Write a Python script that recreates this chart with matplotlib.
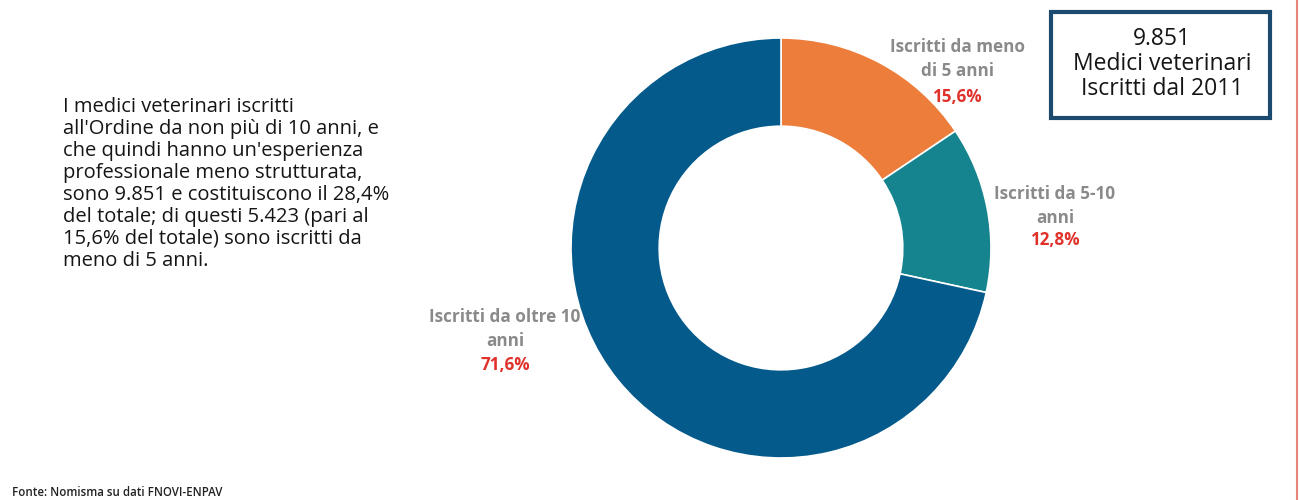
import matplotlib
matplotlib.use("Agg")
import matplotlib.pyplot as plt
from matplotlib.patches import Rectangle
from matplotlib.lines import Line2D

categories = ["Iscritti da meno\ndi 5 anni", "Iscritti da 5-10\nanni", "Iscritti da oltre 10\nanni"]
values = [15.6, 12.8, 71.6]
pct_labels = ["15,6%", "12,8%", "71,6%"]
colors = ["#ED7D3A", "#15848F", "#045A8B"]

body_text = ("I medici veterinari iscritti\n"
             "all'Ordine da non più di 10 anni, e\n"
             "che quindi hanno un'esperienza\n"
             "professionale meno strutturata,\n"
             "sono 9.851 e costituiscono il 28,4%\n"
             "del totale; di questi 5.423 (pari al\n"
             "15,6% del totale) sono iscritti da\n"
             "meno di 5 anni.")
box_text = "9.851\nMedici veterinari\nIscritti dal 2011"
source = "Fonte: Nomisma su dati FNOVI-ENPAV"

plt.rcParams['font.family'] = ['Open Sans', 'DejaVu Sans']

W, H = 1299, 500
fig = plt.figure(figsize=(W/100, H/100), dpi=100)
fig.patch.set_facecolor("white")

ax = fig.add_axes([(781-210)/W, (500-248-210)/H, 420/W, 420/H])
ax.pie(values, colors=colors, startangle=90, counterclock=False,
       wedgeprops=dict(width=0.42, edgecolor="white", linewidth=1.2))
ax.set_aspect("equal")
ax.set_xlim(-1, 1)
ax.set_ylim(-1, 1)

def fx(x): return x / W
def fy(y): return 1 - y / H

label_pos = [(957, 59, 97), (1055, 206, 240), (505, 329, 365)]
for cat, pct, (x, yc, yp) in zip(categories, pct_labels, label_pos):
    fig.text(fx(x), fy(yc), cat, ha="center", va="center", fontsize=12.3,
             fontweight="bold", color="#8A8A8A", linespacing=1.45)
    fig.text(fx(x), fy(yp), pct, ha="center", va="center", fontsize=12.3,
             fontweight="bold", color="#E0322B")

fig.text(fx(63), fy(184), body_text, ha="left", va="center", fontsize=14.5,
         color="#151515", linespacing=1.13)

fig.patches.append(Rectangle((fx(1051), fy(118)), (1270-1051)/W, (118-12)/H,
                             transform=fig.transFigure, fill=False,
                             edgecolor="#1C4A6E", linewidth=3))
fig.text(fx(1162), fy(64), box_text, ha="center", va="center", fontsize=16.5,
         color="#151515", linespacing=1.08)

fig.text(fx(12), fy(493), source, ha="left", va="center", fontsize=8.3,
         color="#222222", fontweight="semibold")

fig.lines.append(Line2D([fx(1297), fx(1297)], [0, 1], transform=fig.transFigure,
                        color="#E8867A", linewidth=1.5))

fig.savefig("out.png", dpi=100, facecolor="white")
